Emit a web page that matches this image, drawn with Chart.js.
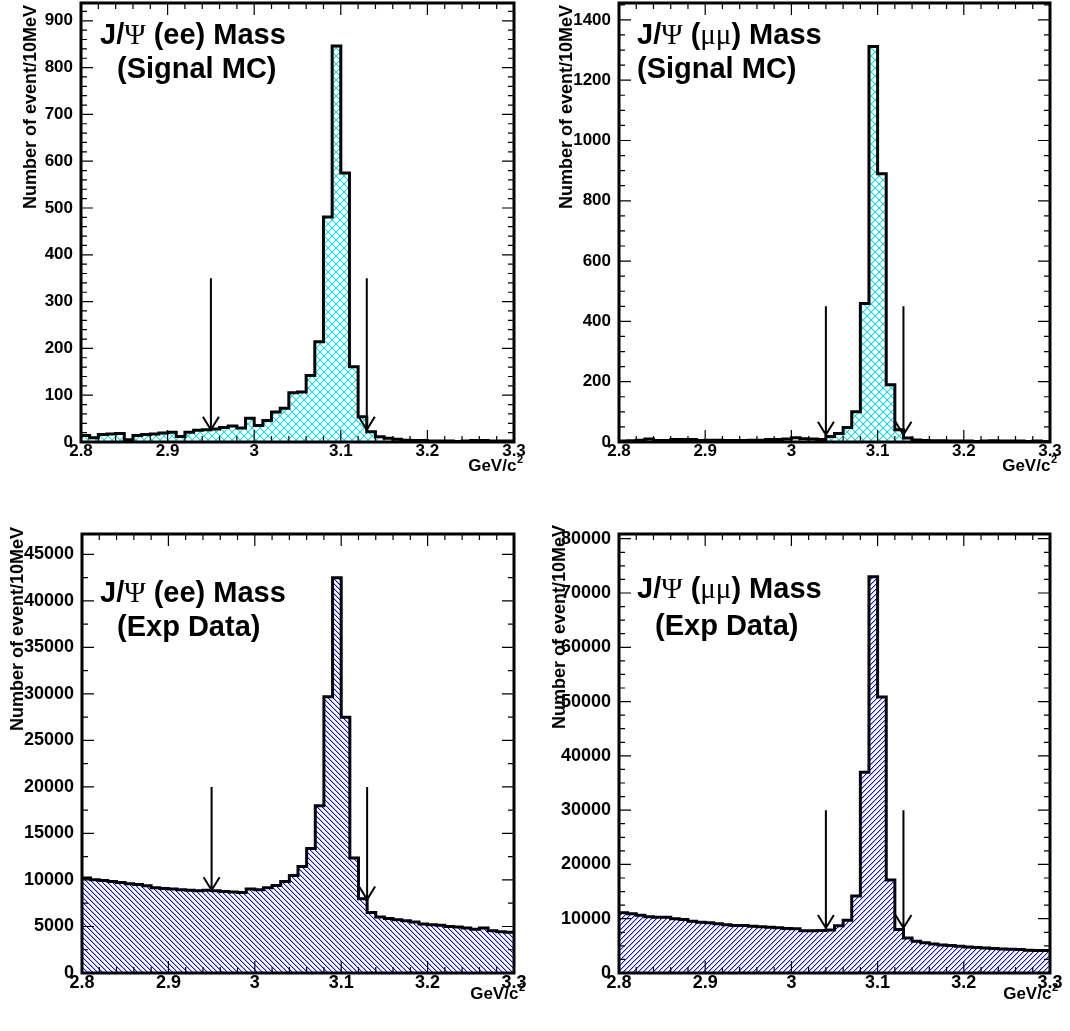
<!DOCTYPE html>
<html><head><meta charset="utf-8">
<script src="https://cdn.jsdelivr.net/npm/chart.js@4/dist/chart.umd.min.js"></script>
<style>
html,body{margin:0;padding:0;background:#fff;}
#wrap{position:relative;width:1070px;height:1031px;overflow:hidden;background:#fff;}
canvas{position:absolute;display:block;}
</style></head><body>
<div id="wrap">
<canvas id="c1" width="535" height="515" style="left:0;top:0"></canvas>
<canvas id="c2" width="535" height="515" style="left:535px;top:0"></canvas>
<canvas id="c3" width="535" height="516" style="left:0;top:515px"></canvas>
<canvas id="c4" width="535" height="516" style="left:535px;top:515px"></canvas>
</div>
<script>
// ---- data ----
const binEdges = [2.80,2.81,2.82,2.83,2.84,2.85,2.86,2.87,2.88,2.89,2.90,2.91,2.92,2.93,2.94,2.95,2.96,2.97,2.98,2.99,
  3.00,3.01,3.02,3.03,3.04,3.05,3.06,3.07,3.08,3.09,3.10,3.11,3.12,3.13,3.14,3.15,3.16,3.17,3.18,3.19,
  3.20,3.21,3.22,3.23,3.24,3.25,3.26,3.27,3.28,3.29,3.30];
const xTickValues = [2.8, 2.9, 3, 3.1, 3.2, 3.3];

const eeMcCounts = [14,9,16,17,18,5,14,16,17,19,21,12,21,25,26,28,31,34,30,51,35,46,64,72,105,
  107,142,214,481,846,575,161,54,22,11,8,6,4,3,3,2,2,2,1,2,3,3,2,2,2];
const mumuMcCounts = [3,4,6,10,5,5,8,8,8,5,6,6,5,5,5,6,6,8,8,10,14,11,10,8,18,
  28,48,100,459,1312,890,190,41,13,7,5,4,4,3,3,3,2,3,4,3,3,3,2,3,2];
const eeDataCounts = [10200,10020,9950,9840,9735,9590,9520,9380,9160,9090,9020,8950,8880,8840,8880,8840,8770,8700,8660,9020,
  8950,9160,9410,9840,10490,11450,13390,17970,29700,42480,27490,12350,7980,6510,6010,5870,5730,5620,5480,5260,
  5190,5120,5010,4940,4830,4690,4830,4550,4440,4370];
const mumuDataCounts = [11090,10900,10660,10350,10290,10290,9980,9860,9550,9370,9240,9060,8870,8750,8750,8630,8500,8440,8320,8190,
  8130,7800,7800,7850,7900,8700,9700,14200,36970,73010,50830,17130,8010,6470,5850,5550,5360,5180,5050,4930,
  4810,4680,4620,4500,4440,4370,4310,4190,4130,4130];

const eeMcYTicks = [0,100,200,300,400,500,600,700,800,900];
const mumuMcYTicks = [0,200,400,600,800,1000,1200,1400];
const eeDataYTicks = [0,5000,10000,15000,20000,25000,30000,35000,40000,45000];
const mumuDataYTicks = [0,10000,20000,30000,40000,50000,60000,70000,80000];

const eeMcCuts = [2.95, 3.13];
const mumuMcCuts = [3.04, 3.13];
const eeDataCuts = [2.95, 3.13];
const mumuDataCuts = [3.04, 3.13];
const eeMcArrowFrom = 350,   eeMcArrowTo = [26, 26];
const mumuMcArrowFrom = 450, mumuMcArrowTo = [24, 24];
const eeDataArrowFrom = 20000, eeDataArrowTo = [8900, 7900];
const mumuDataArrowFrom = 30000, mumuDataArrowTo = [8300, 8300];

const yAxisTitle = 'Number of event/10MeV';
const xAxisTitle = 'GeV/c';
const xAxisTitleSup = '2';

// ---- styling helpers ----
const SANS = '"Liberation Sans", Arial, Helvetica, sans-serif';
const SERIF = '"Liberation Serif", "Times New Roman", serif';

function makePattern(size, color, soft, dirs) {
  const c = document.createElement('canvas');
  c.width = size; c.height = size;
  const g = c.getContext('2d');
  for (let i = 0; i < size; i++) {
    if (dirs.indexOf('\\') >= 0) {
      g.fillStyle = soft; g.fillRect((i + 1) % size, i, 1, 1);
      g.fillStyle = color; g.fillRect(i, i, 1, 1);
    }
    if (dirs.indexOf('/') >= 0) {
      g.fillStyle = soft; g.fillRect((size - i) % size, i, 1, 1);
      g.fillStyle = color; g.fillRect(size - 1 - i, i, 1, 1);
    }
  }
  return g.createPattern(c, 'repeat');
}

function drawTitleLine(ctx, parts, x, y, size) {
  let cx = x;
  parts.forEach(p => {
    ctx.font = (p.serif ? '' : 'bold ') + size + 'px ' + (p.serif ? SERIF : SANS);
    ctx.fillText(p.t, cx, y);
    cx += ctx.measureText(p.t).width;
  });
}

const panels = [
  { id: 'c1', counts: eeMcCounts, yTicks: eeMcYTicks, yMax: 938, yMinorDiv: 5,
    fill: ['#00e6f0', 'rgba(0,230,240,0.35)', 'x', 8], cuts: eeMcCuts, arrowFrom: eeMcArrowFrom, arrowTo: eeMcArrowTo,
    yAxisW: 81, padTop: 3, padRight: 21, xAxisH: 73, tickFont: 17,
    yTitleX: 31, yTitleTop: 5, xTitleRight: 523, xTitleBase: 471,
    lines: [ {x: 100, y: 44, parts: [{t:'J/'},{t:'\u03A8',serif:true},{t:' (ee) Mass'}]},
             {x: 117, y: 78, parts: [{t:'(Signal MC)'}]} ] },
  { id: 'c2', counts: mumuMcCounts, yTicks: mumuMcYTicks, yMax: 1456, yMinorDiv: 4,
    fill: ['#00e6f0', 'rgba(0,230,240,0.35)', 'x', 8], cuts: mumuMcCuts, arrowFrom: mumuMcArrowFrom, arrowTo: mumuMcArrowTo,
    yAxisW: 84, padTop: 3, padRight: 20, xAxisH: 73, tickFont: 17,
    yTitleX: 32, yTitleTop: 5, xTitleRight: 522, xTitleBase: 471,
    lines: [ {x: 102, y: 44, parts: [{t:'J/'},{t:'\u03A8',serif:true},{t:' ('},{t:'\u03BC\u03BC',serif:true},{t:') Mass'}]},
             {x: 102, y: 78, parts: [{t:'(Signal MC)'}]} ] },
  { id: 'c3', counts: eeDataCounts, yTicks: eeDataYTicks, yMax: 47180, yMinorDiv: 2,
    fill: ['#0000ff', 'rgba(0,0,255,0.3)', '\\', 5], cuts: eeDataCuts, arrowFrom: eeDataArrowFrom, arrowTo: eeDataArrowTo,
    yAxisW: 82, padTop: 19, padRight: 21, xAxisH: 58, tickFont: 18,
    yTitleX: 18, yTitleTop: 12, xTitleRight: 525, xTitleBase: 484,
    lines: [ {x: 100, y: 87, parts: [{t:'J/'},{t:'\u03A8',serif:true},{t:' (ee) Mass'}]},
             {x: 117, y: 121, parts: [{t:'(Exp Data)'}]} ] },
  { id: 'c4', counts: mumuDataCounts, yTicks: mumuDataYTicks, yMax: 80870, yMinorDiv: 4,
    fill: ['#0000ff', 'rgba(0,0,255,0.3)', '/', 5], cuts: mumuDataCuts, arrowFrom: mumuDataArrowFrom, arrowTo: mumuDataArrowTo,
    yAxisW: 84, padTop: 19, padRight: 20, xAxisH: 58, tickFont: 18,
    yTitleX: 25, yTitleTop: 10, xTitleRight: 523, xTitleBase: 484,
    lines: [ {x: 102, y: 83, parts: [{t:'J/'},{t:'\u03A8',serif:true},{t:' ('},{t:'\u03BC\u03BC',serif:true},{t:') Mass'}]},
             {x: 120, y: 120, parts: [{t:'(Exp Data)'}]} ] }
];

function decoPlugin(p) {
  return {
    id: 'rootDeco',
    afterDraw(chart) {
      const ctx = chart.ctx;
      const xs = chart.scales.x, ys = chart.scales.y;
      const a = chart.chartArea;
      ctx.save();
      // frame
      ctx.strokeStyle = '#000';
      ctx.lineWidth = 3;
      ctx.strokeRect(a.left, a.top, a.right - a.left, a.bottom - a.top);
      // ticks (inward, all four sides)
      ctx.lineWidth = 1.2;
      ctx.beginPath();
      const majL = 12, minL = 6;
      for (let i = 0; i < xTickValues.length; i++) {
        const px = xs.getPixelForValue(xTickValues[i]);
        ctx.moveTo(px, a.bottom); ctx.lineTo(px, a.bottom - majL);
        ctx.moveTo(px, a.top); ctx.lineTo(px, a.top + majL);
        if (i < xTickValues.length - 1) {
          const step = (xTickValues[i + 1] - xTickValues[i]) / 5;
          for (let k = 1; k < 5; k++) {
            const q = xs.getPixelForValue(xTickValues[i] + k * step);
            ctx.moveTo(q, a.bottom); ctx.lineTo(q, a.bottom - minL);
            ctx.moveTo(q, a.top); ctx.lineTo(q, a.top + minL);
          }
        }
      }
      const yt = p.yTicks;
      const ystep = yt[1] - yt[0];
      for (let v = 0; v <= p.yMax + 1e-9; v += ystep / p.yMinorDiv) {
        const isMaj = Math.abs(v / ystep - Math.round(v / ystep)) < 1e-6;
        const py = ys.getPixelForValue(v);
        const L = isMaj ? majL : minL;
        ctx.moveTo(a.left, py); ctx.lineTo(a.left + L, py);
        ctx.moveTo(a.right, py); ctx.lineTo(a.right - L, py);
      }
      ctx.stroke();
      // cut arrows
      ctx.lineWidth = 2;
      ctx.lineJoin = 'miter';
      p.cuts.forEach((c, i) => {
        const px = xs.getPixelForValue(c);
        const y0 = ys.getPixelForValue(p.arrowFrom);
        const y1 = ys.getPixelForValue(p.arrowTo[i]);
        ctx.beginPath();
        ctx.moveTo(px, y0); ctx.lineTo(px, y1);
        ctx.moveTo(px - 8, y1 - 13); ctx.lineTo(px, y1); ctx.lineTo(px + 8, y1 - 13);
        ctx.stroke();
      });
      // in-plot titles
      ctx.fillStyle = '#000';
      ctx.textBaseline = 'alphabetic';
      ctx.textAlign = 'left';
      p.lines.forEach(l => drawTitleLine(ctx, l.parts, l.x, l.y, 29));
      // y-axis title
      ctx.save();
      ctx.translate(p.yTitleX, p.yTitleTop);
      ctx.rotate(-Math.PI / 2);
      ctx.font = 'bold 18px ' + SANS;
      ctx.textAlign = 'right';
      ctx.textBaseline = 'middle';
      ctx.fillText(yAxisTitle, 0, 0);
      ctx.restore();
      // x-axis title
      ctx.font = 'bold 11px ' + SANS;
      const supW = ctx.measureText(xAxisTitleSup).width;
      ctx.textAlign = 'left';
      ctx.fillText(xAxisTitleSup, p.xTitleRight - supW, p.xTitleBase - 8);
      ctx.font = 'bold 17px ' + SANS;
      ctx.textAlign = 'right';
      ctx.fillText(xAxisTitle, p.xTitleRight - supW - 0.5, p.xTitleBase);
      ctx.restore();
    }
  };
}

panels.forEach(p => {
  const el = document.getElementById(p.id);
  const pattern = makePattern(p.fill[3], p.fill[0], p.fill[1], p.fill[2] === 'x' ? '\\/' : p.fill[2]);
  const pts = binEdges.map((x, i) => ({ x: x, y: p.counts[Math.min(i, p.counts.length - 1)] }));
  new Chart(el, {
    type: 'line',
    data: { datasets: [{
      data: pts,
      stepped: 'before',
      borderColor: '#000', borderWidth: 3,
      borderJoinStyle: 'miter', borderCapStyle: 'butt',
      backgroundColor: pattern, fill: 'origin',
      pointRadius: 0, pointHoverRadius: 0, tension: 0
    }]},
    options: {
      responsive: false, animation: false, devicePixelRatio: 1,
      events: [],
      layout: { padding: { top: p.padTop, right: p.padRight, left: 0, bottom: 0 } },
      plugins: { legend: { display: false }, tooltip: { enabled: false }, title: { display: false } },
      scales: {
        x: {
          type: 'linear', min: 2.8, max: 3.3,
          grid: { display: false, drawTicks: false }, border: { display: false },
          ticks: { color: '#000', font: { family: SANS, size: p.tickFont, weight: 'bold' },
                   padding: -1, maxRotation: 0, autoSkip: false,
                   callback: v => String(Math.round(v * 10) / 10) },
          afterBuildTicks: s => { s.ticks = xTickValues.map(v => ({ value: v })); },
          afterFit: s => { s.height = p.xAxisH; s.paddingLeft = 0; s.paddingRight = 0; }
        },
        y: {
          type: 'linear', min: 0, max: p.yMax,
          grid: { display: false, drawTicks: false }, border: { display: false },
          ticks: { color: '#000', font: { family: SANS, size: p.tickFont, weight: 'bold' },
                   padding: 8, autoSkip: false, callback: v => String(v) },
          afterBuildTicks: s => { s.ticks = p.yTicks.map(v => ({ value: v })); },
          afterFit: s => { s.width = p.yAxisW; s.paddingTop = 0; s.paddingBottom = 0; }
        }
      }
    },
    plugins: [decoPlugin(p)]
  });
});
</script>
</body></html>
